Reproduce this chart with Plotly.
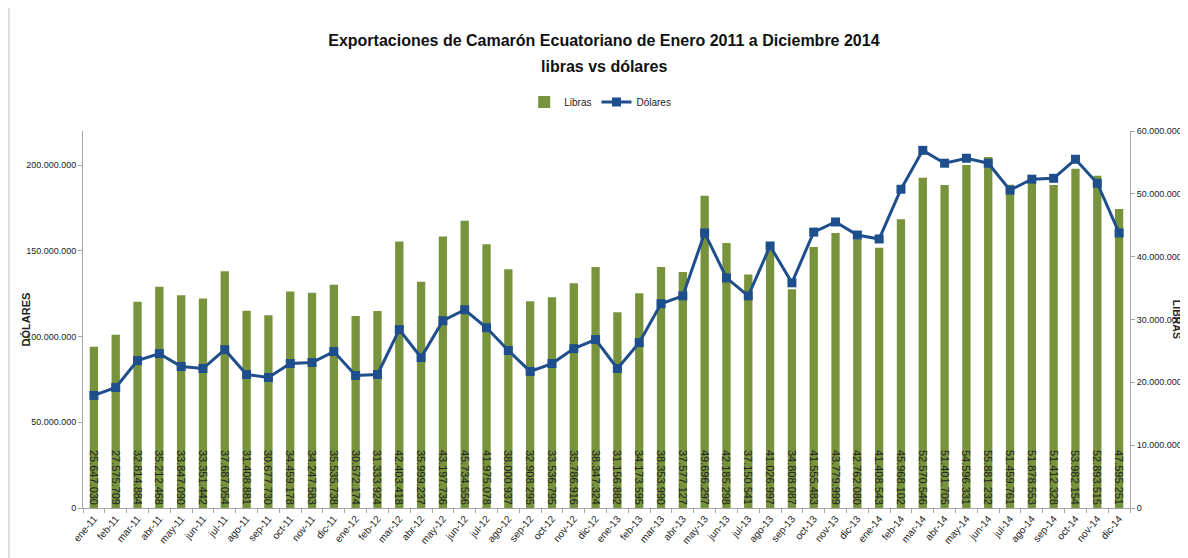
import plotly.graph_objects as go

meses = ["ene", "feb", "mar", "abr", "may", "jun", "jul", "ago", "sep", "oct", "nov", "dic"]
categorias = [f"{m}-{a}" for a in ["11", "12", "13", "14"] for m in meses]

libras = [
    25647030, 27575709, 32814884, 35212468, 33847090, 33351442, 37687054, 31408881, 30677730, 34459178, 34247583, 35535738,
    30572174, 31333924, 42403418, 35999237, 43197736, 45734556, 41975078, 38000937, 32908295, 33536795, 35786916, 38347324,
    31156882, 34173595, 38353990, 37577127, 49696297, 42185298, 37150541, 41026997, 34808087, 41555483, 43779999, 42762080,
    41408543, 45968102, 52570546, 51401705, 54596331, 55881232, 51459761, 51878553, 51412328, 53982154, 52893515, 47595251,
]

dolares = [
    65.7, 70.3, 86.0, 90.1, 82.6, 81.4, 92.4, 77.9, 76.2, 84.3, 84.9, 91.3,
    77.3, 77.9, 104.1, 87.8, 109.3, 115.7, 105.2, 91.9, 79.7, 84.3, 93.0, 98.3,
    81.4, 96.5, 119.2, 123.8, 160.5, 134.3, 123.8, 152.9, 131.4, 161.0, 166.9, 159.3,
    157.0, 186.0, 208.7, 201.2, 204.1, 201.2, 185.5, 191.9, 192.4, 203.5, 189.5, 160.5,
]
dolares = [v * 1e6 for v in dolares]

FONT = "Liberation Sans, Arial, sans-serif"
GREEN = "#77933C"
BLUE = "#1F4E8C"
AXC = "#A6A6A6"

fig = go.Figure()
fig.add_trace(go.Bar(
    x=categorias, y=libras, name="Libras", yaxis="y",
    marker=dict(color=GREEN, line=dict(width=0)),
    texttemplate="%{y:,.0f}", textposition="inside", insidetextanchor="start",
    textangle=90, textfont=dict(family=FONT, size=11, color="#222222"),
))
fig.add_trace(go.Scatter(
    x=categorias, y=dolares, name="Dólares", yaxis="y2",
    mode="lines+markers",
    line=dict(color=BLUE, width=3),
    marker=dict(symbol="square", size=9, color=BLUE),
))

fig.update_layout(
    width=1180, height=550,
    margin=dict(l=75, r=58, t=123, b=50),
    paper_bgcolor="white", plot_bgcolor="white",
    separators=",.",
    font=dict(family=FONT, size=10, color="#222222"),
    title=dict(
        text="<b>Exportaciones de Camarón Ecuatoriano de Enero 2011 a Diciembre 2014</b>",
        x=0.505, xanchor="center", y=0.942, yanchor="middle",
        font=dict(family=FONT, size=16, color="#111111"),
    ),
    legend=dict(orientation="h", x=0.494, xanchor="center", y=1.077, yanchor="middle",
                font=dict(family=FONT, size=10), traceorder="normal", itemwidth=30),
    bargap=0.62,
    uniformtext=dict(minsize=10, mode="show"),
    xaxis=dict(
        type="category", range=[-0.5, 47.5], tickangle=-50, showline=True, linecolor=AXC,
        ticks="outside", ticklen=4, tickcolor=AXC, tickson="boundaries", showgrid=False,
        tickfont=dict(family=FONT, size=10, color="#222222"), automargin=False,
    ),
    yaxis=dict(
        range=[0, 60e6], dtick=10e6, tickformat=",.0f", side="right",
        showline=True, linecolor=AXC, ticks="outside", ticklen=4, tickcolor=AXC,
        showgrid=False, zeroline=False, automargin=False,
        tickfont=dict(family=FONT, size=9),
    ),
    yaxis2=dict(
        range=[0, 220e6], tickvals=[0, 50e6, 100e6, 150e6, 200e6], tickformat=",.0f",
        overlaying="y", side="left",
        showline=True, linecolor=AXC, ticks="outside", ticklen=4, tickcolor=AXC,
        showgrid=False, zeroline=False, automargin=False,
        tickfont=dict(family=FONT, size=9),
    ),
    annotations=[
        dict(text="<b>libras vs dólares</b>", xref="paper", yref="paper", x=0.4975, y=1.172,
             xanchor="center", yanchor="middle", showarrow=False,
             font=dict(family=FONT, size=16, color="#111111")),
        dict(text="<b>DÓLARES</b>", xref="paper", yref="paper", x=-0.0545, y=0.5,
             xanchor="center", yanchor="middle",
             textangle=-90, showarrow=False, font=dict(family=FONT, size=11, color="#222222")),
        dict(text="<b>LIBRAS</b>", xref="paper", yref="paper", x=1.0455, y=0.5,
             xanchor="center", yanchor="middle",
             textangle=90, showarrow=False, font=dict(family=FONT, size=10.5, color="#222222")),
    ],
    shapes=[dict(type="line", xref="paper", yref="paper",
                 x0=-0.0707, x1=-0.0707, y0=-0.2, y1=1.35,
                 line=dict(color="#BFBFBF", width=1))],
)

fig.write_html("out.html")
